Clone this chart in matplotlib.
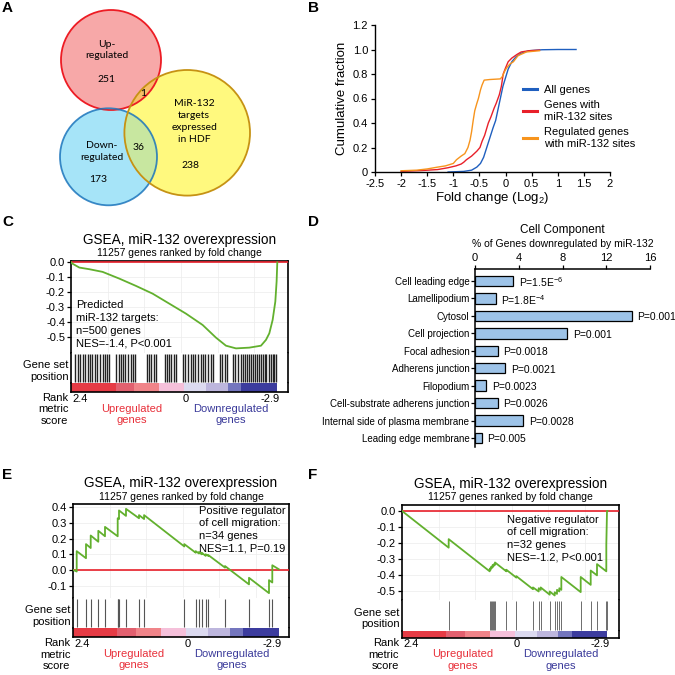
import numpy as np
import matplotlib
matplotlib.use("Agg")
import matplotlib.pyplot as plt
from matplotlib.patches import Circle

plt.rcParams['font.family'] = ['Liberation Sans', 'DejaVu Sans']
plt.rcParams['mathtext.fontset'] = 'custom'
plt.rcParams['mathtext.rm'] = 'Liberation Sans'
plt.rcParams['mathtext.it'] = 'Liberation Sans:italic'
plt.rcParams['mathtext.bf'] = 'Liberation Sans:bold'

W = 675

# ---------------- data ----------------
# A: venn counts
venn_up = 251
venn_down = 173
venn_targets = 238
venn_up_targets = 1
venn_down_targets = 36

# B: cumulative distributions (fold change log2, cumulative fraction)
all_fc = [-1.1, -0.8, -0.65, -0.55, -0.48, -0.42, -0.36, -0.3, -0.24, -0.19, -0.14, -0.1,
          -0.05, 0.0, 0.05, 0.12, 0.2, 0.3, 0.45, 0.7, 1.0, 1.35]
all_cum = [0.0, 0.005, 0.015, 0.04, 0.07, 0.12, 0.2, 0.28, 0.36, 0.42, 0.52, 0.6,
           0.7, 0.77, 0.84, 0.9, 0.94, 0.97, 0.99, 0.998, 1.0, 1.0]
site_fc = [-2.0, -1.6, -1.3, -1.1, -0.95, -0.85, -0.8, -0.75, -0.65, -0.55, -0.49, -0.45,
           -0.4, -0.33, -0.28, -0.22, -0.18, -0.12, -0.08, -0.045, 0.0, 0.05, 0.12, 0.22,
           0.3, 0.45, 0.65]
site_cum = [0.005, 0.012, 0.02, 0.035, 0.05, 0.065, 0.08, 0.1, 0.13, 0.17, 0.2, 0.25,
            0.3, 0.4, 0.45, 0.52, 0.56, 0.63, 0.7, 0.8, 0.85, 0.9, 0.93, 0.96,
            0.98, 0.99, 0.995]
reg_fc = [-2.0, -1.7, -1.5, -1.3, -1.15, -1.0, -0.94, -0.85, -0.78, -0.72, -0.68, -0.65,
          -0.62, -0.59, -0.55, -0.52, -0.48, -0.45, -0.41, -0.3, -0.1, -0.06, -0.02, 0.02,
          0.08, 0.15, 0.24, 0.4, 0.65]
reg_cum = [0.01, 0.015, 0.025, 0.04, 0.05, 0.07, 0.1, 0.13, 0.15, 0.2, 0.26, 0.33,
           0.42, 0.5, 0.56, 0.6, 0.67, 0.71, 0.75, 0.755, 0.76, 0.78, 0.82, 0.85,
           0.88, 0.9, 0.95, 0.98, 0.99]

# GSEA
n_genes = 11257
c_rank = [0, 36, 437, 983, 1712, 2622, 3533, 4444, 5355, 6266, 7177, 7906, 8452, 8999,
          9728, 10365, 10638, 10821, 11003, 11149, 11220, 11257]
c_es = [0, -0.007, -0.035, -0.046, -0.064, -0.109, -0.158, -0.21, -0.277, -0.344, -0.42,
        -0.505, -0.559, -0.577, -0.572, -0.559, -0.52, -0.476, -0.386, -0.263, -0.128, 0.0]
c_hits = [220, 366, 475, 621, 766, 912, 1021, 1130, 1276, 1421, 1567, 1713, 1822, 1967, 2077,
          2459, 2586, 2695, 2823, 2950, 3096, 3242, 3369, 3496, 4115, 4261, 4370, 4497, 4625,
          5098, 5207, 5316, 5462, 5607, 5735, 6099, 6226, 6372, 6517, 6645, 6772, 6918, 7064,
          7191, 7318, 7464, 7610, 7737, 8101, 8229, 8374, 8483, 8829, 8957, 9102, 9248, 9375,
          9466, 9575, 9685, 9794, 9903, 10012, 10122, 10231, 10340, 10449, 10558, 10667,
          10777, 10886, 10995, 11104, 11195]

e_rank = [0, 186, 186, 696, 696, 954, 954, 1370, 1370, 1737, 1737, 2433, 2433, 2505, 2505,
          2888, 2888, 3601, 3601, 3879, 3879, 6083, 6083, 6708, 6708, 6889, 6889, 7037, 7037,
          7256, 7256, 7399, 7399, 8314, 8314, 9629, 9629, 10725, 10725, 10906, 10906, 11257]
e_es = [0, -0.01, 0.12, 0.075, 0.165, 0.14, 0.22, 0.18, 0.25, 0.215, 0.275, 0.215, 0.33,
        0.325, 0.38, 0.345, 0.39, 0.33, 0.35, 0.325, 0.35, 0.15, 0.165, 0.11, 0.12, 0.105,
        0.115, 0.10, 0.11, 0.09, 0.10, 0.09, 0.095, 0.015, 0.025, -0.092, -0.05, -0.148,
        -0.065, -0.08, 0.03, 0.005]
e_hits = [186, 696, 954, 1370, 1737, 2433, 2470, 2505, 2888, 3601, 3879, 6083, 6708, 6889,
          7037, 7256, 7399, 8314, 9629, 10725, 10906]

f_rank = [0, 2557, 2557, 4804, 4804, 4859, 4859, 4914, 4914, 4968, 4968, 5040, 5040, 5094,
          5094, 5714, 5714, 6262, 6262, 7176, 7176, 7488, 7488, 7598, 7598, 8091, 8091, 8365,
          8365, 8491, 8491, 8618, 8618, 8728, 8728, 9789, 9789, 10337, 10337, 10682, 10682,
          11192, 11192, 11230, 11257]
f_es = [0, -0.228, -0.175, -0.375, -0.36, -0.365, -0.35, -0.355, -0.345, -0.35, -0.335,
        -0.34, -0.33, -0.335, -0.32, -0.375, -0.365, -0.414, -0.405, -0.486, -0.475, -0.50,
        -0.48, -0.49, -0.475, -0.52, -0.50, -0.525, -0.505, -0.515, -0.49, -0.50, -0.48,
        -0.49, -0.41, -0.504, -0.41, -0.459, -0.37, -0.40, -0.33, -0.375, -0.21, 0.0, 0.0]
f_hits = [2557, 4804, 4859, 4914, 4968, 5040, 5094, 5714, 6262, 7176, 7488, 7598, 8091,
          8365, 8491, 8618, 8728, 9789, 10337, 10682, 11192, 11230]

rank_bar_edges = [0, 2420, 3433, 4807, 6180, 7373, 8567, 9298, 11257]
rank_bar_colors = ['#E63B45', '#E2606F', '#F08489', '#F5C0DA', '#DCDAF0', '#BDB6DD',
                   '#7476BE', '#3C3C9E']

# D
components = ["Cell leading edge", "Lamellipodium", "Cytosol", "Cell projection",
              "Focal adhesion", "Adherens junction", "Filopodium",
              "Cell-substrate adherens junction", "Internal side of plasma membrane",
              "Leading edge membrane"]
pct = [3.5, 1.9, 14.35, 8.45, 2.1, 2.75, 1.05, 2.1, 4.4, 0.6]
pvals = ["P=1.5E$^{-6}$", "P=1.8E$^{-4}$", "P=0.001", "P=0.001", "P=0.0018", "P=0.0021",
         "P=0.0023", "P=0.0026", "P=0.0028", "P=0.005"]


def box(x0, y0, x1, y1):
    return [x0 / W, 1 - y1 / W, (x1 - x0) / W, (y1 - y0) / W]


def ftext(x, y, s, **kw):
    fig.text(x / W, 1 - y / W, s, **kw)


fig = plt.figure(figsize=(6.75, 6.75), dpi=100)

# panel letters
for lab, x, y in [("A", 2, 8), ("B", 308, 8), ("C", 2, 222), ("D", 308, 222),
                  ("E", 2, 475), ("F", 308, 475)]:
    ftext(x, y, lab, fontsize=11, fontweight='bold', va='center')

# ---------------- A: venn ----------------
axA = fig.add_axes(box(0, 0, 255, 210))
axA.set_xlim(0, 255)
axA.set_ylim(210, 0)
axA.axis('off')
c_up = ((111, 60), 50)
c_dn = ((108.5, 156.8), 48.5)
c_tg = ((187.2, 132.8), 62.8)
axA.add_patch(Circle(*c_up, facecolor='#F7A8A8', edgecolor='none'))
axA.add_patch(Circle(*c_dn, facecolor='#A6E4F8', edgecolor='none'))
yc = Circle(*c_tg, facecolor='#FFF97E', edgecolor='none')
axA.add_patch(yc)
p1 = Circle(*c_up, facecolor='#F8BE66', edgecolor='none')
axA.add_patch(p1)
p1.set_clip_path(yc)
p2 = Circle(*c_dn, facecolor='#C8E7A0', edgecolor='none')
axA.add_patch(p2)
p2.set_clip_path(yc)
axA.add_patch(Circle(*c_up, facecolor='none', edgecolor='#ED1C24', lw=1.3))
axA.add_patch(Circle(*c_dn, facecolor='none', edgecolor='#1C75BC', lw=1.3, alpha=0.85))
axA.add_patch(Circle(*c_tg, facecolor='none', edgecolor='#C69214', lw=1.3))
vk = dict(fontsize=7.5, ha='center', va='center', family=['Lato', 'DejaVu Sans'],
          linespacing=1.4)
axA.text(106.7, 50, "Up-\nregulated", **vk)
axA.text(106.7, 79, str(venn_up), **vk)
axA.text(101.7, 151.7, "Down-\nregulated", **vk)
axA.text(98.3, 179, str(venn_down), **vk)
axA.text(194.3, 121.5, "MiR-132\ntargets\nexpressed\nin HDF", **vk)
axA.text(190.7, 165.7, str(venn_targets), **vk)
axA.text(143.3, 93.3, str(venn_up_targets), **vk)
axA.text(139, 147.3, str(venn_down_targets), **vk)

# ---------------- B: cumulative ----------------
axB = fig.add_axes(box(375, 25, 610, 172))
axB.plot(all_fc, all_cum, color='#1F5FBF', lw=1.0, label='All genes')
axB.plot(site_fc, site_cum, color='#E8202A', lw=1.0, label='Genes with\nmiR-132 sites')
axB.plot(reg_fc, reg_cum, color='#F7941D', lw=1.0, label='Regulated genes\nwith miR-132 sites')
axB.set_xlim(-2.5, 2)
axB.set_ylim(0, 1.2)
axB.set_xticks(np.arange(-2.5, 2.01, 0.5))
axB.set_xticklabels(['-2.5', '-2', '-1.5', '-1', '-0.5', '0', '0.5', '1', '1.5', '2'])
axB.set_yticks([0, 0.2, 0.4, 0.6, 0.8, 1.0, 1.2])
axB.set_yticklabels(['0', '0.2', '0.4', '0.6', '0.8', '1.0', '1.2'])
for s in ['top', 'right']:
    axB.spines[s].set_visible(False)
for s in ['left', 'bottom']:
    axB.spines[s].set_linewidth(1.0)
axB.tick_params(direction='out', length=3, width=0.9, labelsize=8, pad=2)
axB.set_ylabel('Cumulative fraction', fontsize=9.5, labelpad=3)
axB.set_xlabel('Fold change (Log$_\\mathrm{2}$)', fontsize=9.5, labelpad=1)
axB.legend(loc='upper left', bbox_to_anchor=(0.61, 0.62), frameon=False, fontsize=8,
           handlelength=1.3, handletextpad=0.6, labelspacing=0.45, borderaxespad=0)
for ln in axB.get_legend().get_lines():
    ln.set_linewidth(2.2)


# ---------------- GSEA panels ----------------
def gsea(x0, x1, y_top, y_es, y_hits, y_bot, xmax, ylim, yticks, rank, es, hits,
         note, note_x, note_y, hit_lw, hit_col):
    ax = fig.add_axes(box(x0, y_top, x1, y_es))
    axh = fig.add_axes(box(x0, y_es, x1, y_hits))
    axc = fig.add_axes(box(x0, y_hits, x1, y_bot))
    for a in (ax, axh, axc):
        a.set_xlim(0, xmax)
        for s in a.spines.values():
            s.set_linewidth(1.2)
    ax.set_ylim(*ylim)
    ax.set_yticks(yticks)
    ax.set_yticklabels(['%.1f' % v if abs(v) > 1e-9 else '0.0' for v in yticks])
    ax.set_xticks(np.arange(2000, xmax, 2000))
    ax.tick_params(axis='x', length=0, labelbottom=False)
    ax.tick_params(axis='y', direction='out', length=3, width=0.9, labelsize=8, pad=1.5)
    ax.grid(True, color='#ececec', lw=0.5)
    ax.axhline(0, color='#E8202A', lw=1.2, zorder=3)
    ax.plot(rank, es, color='#62B02E', lw=1.3, zorder=4)
    ax.spines['bottom'].set_color('#bbbbbb')
    ax.spines['bottom'].set_linewidth(0.7)
    ftext(note_x, note_y, note, fontsize=8, va='top', linespacing=1.33)

    axh.vlines(hits, 0.04, 0.96, color=hit_col, lw=hit_lw)
    axh.set_ylim(0, 1)
    axh.set_xticks([])
    axh.set_yticks([])
    axh.spines['top'].set_visible(False)
    axh.spines['bottom'].set_color('#bbbbbb')
    axh.spines['bottom'].set_linewidth(0.7)

    for i, col in enumerate(rank_bar_colors):
        axc.axvspan(rank_bar_edges[i], rank_bar_edges[i + 1], color=col, lw=0)
    axc.set_xticks([])
    axc.set_yticks([])
    axc.spines['top'].set_visible(False)

    ftext(x0 - 2.5, (y_es + y_hits) / 2 + 3, "Gene set\nposition", fontsize=8,
          ha='right', va='center', linespacing=1.2)
    ftext(x0 - 3, y_bot + 1, "Rank\nmetric\nscore", fontsize=8, ha='right', va='top',
          linespacing=1.15)
    ak = dict(xycoords=('data', 'axes fraction'), textcoords='offset points', fontsize=8)
    axc.annotate("2.4", (0, 0), xytext=(1, -5), ha='left', va='center', **ak)
    axc.annotate("0", (6270, 0), xytext=(0, -5), ha='center', va='center', **ak)
    axc.annotate("-2.9", (10870, 0), xytext=(0, -5), ha='center', va='center', **ak)
    axc.annotate("Upregulated\ngenes", (3317, 0), xytext=(0, -8.5), ha='center', va='top',
                 color='#E8303A', linespacing=1.15, **ak)
    axc.annotate("Downregulated\ngenes", (8711, 0), xytext=(0, -8.5), ha='center', va='top',
                 color='#3A3A9A', linespacing=1.15, **ak)
    xc = (x0 + x1) / 2
    ftext(xc, y_top - 21, "GSEA, miR-132 overexpression", fontsize=9.8, ha='center',
          va='center')
    ftext(xc, y_top - 7.5, "11257 genes ranked by fold change", fontsize=7.5, ha='center',
          va='center')


gsea(71.3, 288, 260.7, 353.3, 383.3, 392.3, 11842, (-0.61, 0.011),
     [0.0, -0.1, -0.2, -0.3, -0.4, -0.5], c_rank, c_es, c_hits,
     "Predicted\nmiR-132 targets:\nn=500 genes\nNES=-1.4, P<0.001", 76, 300.5,
     1.0, '#222222')
gsea(73.3, 288.7, 504, 597.7, 628.3, 637.3, 11805, (-0.177, 0.421),
     [0.4, 0.3, 0.2, 0.1, 0.0, -0.1], e_rank, e_es, e_hits,
     "Positive regulator\nof cell migration:\nn=34 genes\nNES=1.1, P=0.19", 199, 505.5,
     0.8, '#555555')
gsea(402, 619, 505, 600, 631, 637.5, 11887, (-0.553, 0.037),
     [0.0, -0.1, -0.2, -0.3, -0.4, -0.5], f_rank, f_es, f_hits,
     "Negative regulator\nof cell migration:\nn=32 genes\nNES=-1.2, P<0.001", 506.7, 514.8,
     0.6, '#555555')

# ---------------- D: bar chart ----------------
axD = fig.add_axes(box(475, 269, 650, 447))
ypos = np.arange(len(components))
axD.barh(ypos, pct, height=0.6, color='#9DC3E8', edgecolor='black', lw=0.9)
axD.set_xlim(0, 16)
axD.set_ylim(9.52, -0.69)
axD.set_yticks(ypos)
axD.set_yticklabels(components, fontsize=7)
axD.xaxis.tick_top()
axD.set_xticks([0, 4, 8, 12, 16])
axD.tick_params(axis='x', direction='out', length=3, width=0.9, labelsize=8, pad=1)
axD.tick_params(axis='y', direction='out', length=3, width=0.9, pad=1)
axD.spines['right'].set_visible(False)
axD.spines['bottom'].set_visible(False)
axD.spines['top'].set_linewidth(1.1)
axD.spines['left'].set_linewidth(1.1)
for y, v, p in zip(ypos, pct, pvals):
    axD.annotate(p, (v, y), xytext=(4, -1), textcoords='offset points', va='center',
                 fontsize=7.5)
ftext(562, 230, "Cell Component", fontsize=8.5, ha='center', va='center')
ftext(563, 244, "% of Genes downregulated by miR-132", fontsize=7.5, ha='center',
      va='center')

fig.savefig('out.png', dpi=100)
